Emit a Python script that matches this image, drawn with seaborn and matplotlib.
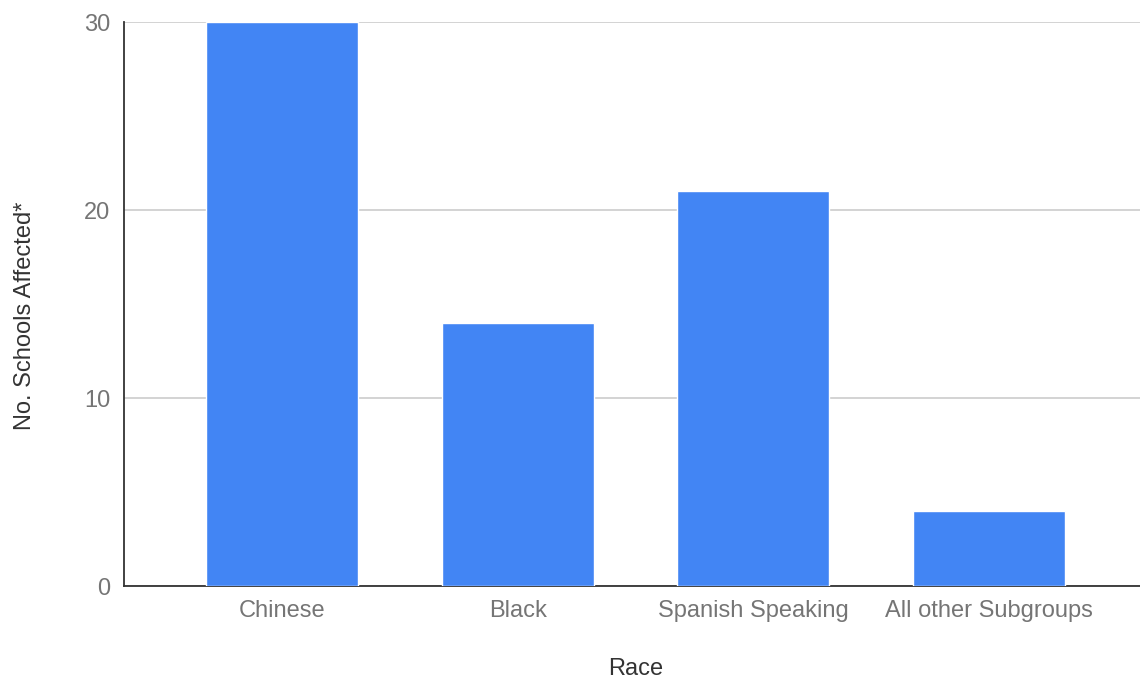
import matplotlib
matplotlib.use("Agg")
import matplotlib.pyplot as plt
import seaborn as sns
import pandas as pd

categories = ["Chinese", "Black", "Spanish Speaking", "All other Subgroups"]
schools_affected = [30, 14, 21, 4]
y_ticks = [0, 10, 20, 30]

sns.set_theme(style="white")
plt.rcParams["font.family"] = ["Liberation Sans", "DejaVu Sans"]

df = pd.DataFrame({"Race": categories, "Schools": schools_affected})

fig = plt.figure(figsize=(11.4, 6.8), dpi=100)
ax = fig.add_axes([0.1088, 0.1382, 0.8912, 0.8294])

sns.barplot(data=df, x="Race", y="Schools", color="#4285F4", saturation=1,
            width=0.645, ax=ax, zorder=3)

ax.set_ylim(0, 30)
ax.set_xlim(-0.67, len(categories) - 1 + 0.64)
ax.set_yticks(y_ticks)
ax.yaxis.grid(True, color="#cccccc", linewidth=1.2, zorder=0)
ax.set_axisbelow(True)

for side in ["top", "right"]:
    ax.spines[side].set_visible(False)
for side in ["left", "bottom"]:
    ax.spines[side].set_color("#333333")
    ax.spines[side].set_linewidth(1.3)

ax.tick_params(axis="both", length=0, labelsize=17, labelcolor="#757575")
ax.tick_params(axis="y", pad=10)
ax.tick_params(axis="x", pad=10)

ax.set_xlabel("Race", fontsize=17, color="#333333")
ax.set_ylabel("No. Schools Affected*", fontsize=17, color="#333333")
ax.xaxis.set_label_coords(0.504, -0.127)
ax.yaxis.set_label_coords(-0.087, 0.479)

fig.savefig("out.png", dpi=100)
